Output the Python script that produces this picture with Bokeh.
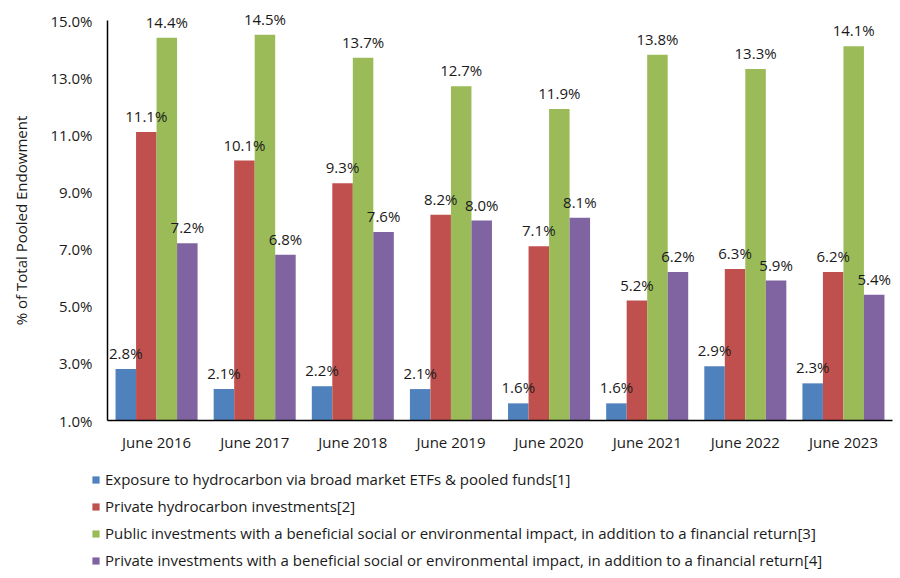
from bokeh.plotting import figure
from bokeh.models import (ColumnDataSource, LabelSet, Legend, LegendItem,
                          FixedTicker, PrintfTickFormatter, Range1d)
from bokeh.core.properties import value
from bokeh.embed import file_html
from bokeh.resources import INLINE

years = ["June 2016", "June 2017", "June 2018", "June 2019",
         "June 2020", "June 2021", "June 2022", "June 2023"]
etf_exposure = [2.8, 2.1, 2.2, 2.1, 1.6, 1.6, 2.9, 2.3]
private_hydrocarbon = [11.1, 10.1, 9.3, 8.2, 7.1, 5.2, 6.3, 6.2]
public_impact = [14.4, 14.5, 13.7, 12.7, 11.9, 13.8, 13.3, 14.1]
private_impact = [7.2, 6.8, 7.6, 8.0, 8.1, 6.2, 5.9, 5.4]
series_names = [
    "Exposure to hydrocarbon via broad market ETFs & pooled funds[1]",
    "Private hydrocarbon investments[2]",
    "Public investments with a beneficial social or environmental impact, in addition to a financial return[3]",
    "Private investments with a beneficial social or environmental impact, in addition to a financial return[4]",
]
y_ticks = [1.0, 3.0, 5.0, 7.0, 9.0, 11.0, 13.0, 15.0]
colors = ["#4F81BD", "#C0504D", "#9BBB59", "#8064A2"]

FONT = "Open Sans"
series = [etf_exposure, private_hydrocarbon, public_impact, private_impact]

# The frame covers the whole canvas; the axes are drawn at fixed data locations
# so that the legend beneath the chart lies inside the frame.
n = len(years)
cat_pos = [i + 0.5 for i in range(n)]
px_per_cat = 98.125
px_per_pct = 400 / (y_ticks[-1] - y_ticks[0])
x_start = -107 / px_per_cat
x_end = n + 8 / px_per_cat
y_end = y_ticks[-1] + 20 / px_per_pct
y_start = y_ticks[0] - 158 / px_per_pct

p = figure(width=900, height=578, x_range=Range1d(x_start, x_end),
           y_range=Range1d(y_start, y_end), output_backend="svg", toolbar_location=None,
           min_border=0)
p.outline_line_color = None
p.xgrid.grid_line_color = None
p.ygrid.grid_line_color = None
p.background_fill_color = "white"
p.border_fill_color = "white"

bw = 0.209
offsets = [-1.5 * bw, -0.5 * bw, 0.5 * bw, 1.5 * bw]
items = []
label_sets = []
for i, (vals, name, col) in enumerate(zip(series, series_names, colors)):
    xs = [c + offsets[i] for c in cat_pos]
    src = ColumnDataSource(dict(x=xs, top=vals, txt=[f"{v:.1f}%" for v in vals]))
    r = p.vbar(x="x", top="top", bottom=y_ticks[0], width=bw, source=src,
               fill_color=col, line_color=None)
    items.append(LegendItem(label=name, renderers=[r]))
    label_sets.append(LabelSet(x="x", y="top", text="txt", source=src,
                               text_align="center", text_baseline="alphabetic",
                               y_offset=10, text_font=value(FONT), text_font_size=value("15px"),
                               text_color="#1a1a1a"))
for ls in label_sets:
    p.add_layout(ls)

p.yaxis.fixed_location = 0
p.yaxis.bounds = (y_ticks[0], y_ticks[-1])
p.yaxis.ticker = FixedTicker(ticks=y_ticks)
p.yaxis.formatter = PrintfTickFormatter(format="%.1f%%")
p.yaxis.axis_label = "% of Total Pooled Endowment"
p.yaxis.axis_label_text_font = FONT
p.yaxis.axis_label_text_font_size = "15px"
p.yaxis.axis_label_text_font_style = "normal"
p.yaxis.axis_label_text_color = "#1a1a1a"
p.yaxis.axis_label_standoff = 16
p.yaxis.major_label_standoff = 15

p.xaxis.fixed_location = y_ticks[0]
p.xaxis.bounds = (0, n)
p.xaxis.ticker = FixedTicker(ticks=cat_pos)
p.xaxis.major_label_overrides = {c: y for c, y in zip(cat_pos, years)}
p.xaxis.major_label_standoff = 11

for ax in (p.xaxis, p.yaxis):
    ax.axis_line_color = "black"
    ax.axis_line_width = 1.5
    ax.major_tick_line_color = None
    ax.minor_tick_line_color = None
    ax.major_tick_in = 0
    ax.major_tick_out = 0
    ax.minor_tick_out = 0
    ax.major_label_text_font = FONT
    ax.major_label_text_font_size = "15px"
    ax.major_label_text_color = "#1a1a1a"

legend = Legend(items=items, location=(91, 8), orientation="vertical",
                glyph_width=9, glyph_height=9, label_height=19, spacing=7,
                label_standoff=5, padding=0, margin=0, border_line_color=None,
                background_fill_alpha=0, label_text_font=FONT,
                label_text_font_size="15px", label_text_color="#1a1a1a")
p.add_layout(legend, "center")

open("out.html", "w").write(file_html(p, INLINE))
